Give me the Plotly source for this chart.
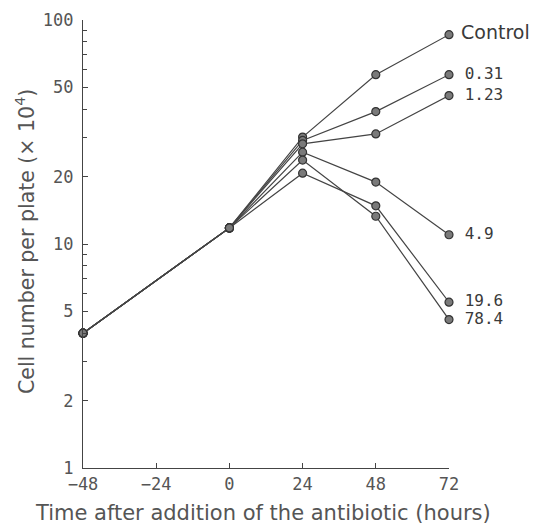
import plotly.graph_objects as go

hours = [-48, 0, 24, 48, 72]
series_names = ["Control", "0.31", "1.23", "4.9", "19.6", "78.4"]
control = [4.0, 11.8, 30.0, 57.0, 86.0]
c031 = [4.0, 11.8, 29.0, 39.0, 57.0]
c123 = [4.0, 11.8, 28.0, 31.0, 46.0]
c49 = [4.0, 11.8, 25.7, 18.9, 11.0]
c196 = [4.0, 11.8, 20.7, 14.8, 5.5]
c784 = [4.0, 11.8, 23.7, 13.3, 4.6]
all_values = [control, c031, c123, c49, c196, c784]

x_ticks = [-48, -24, 0, 24, 48, 72]
x_ticktext = ["\u221248", "\u221224", "0", "24", "48", "72"]
y_ticks = [1, 2, 5, 10, 20, 50, 100]
y_minor = [3, 4, 6, 7, 8, 9, 30, 40, 60, 70, 80, 90]

x_title = "Time after addition of the antibiotic (hours)"
y_title = "Cell number per plate (\u00d7 10<sup>4</sup>)"

line_col = "#444444"
text_col = "#555555"
mono = "DejaVu Sans Mono"
sans = "DejaVu Sans"

fig = go.Figure()
for name, vals in zip(series_names, all_values):
    labels = [""] * (len(vals) - 1) + [" " + name]
    is_ctrl = name == "Control"
    fig.add_trace(go.Scatter(
        x=hours, y=vals, mode="lines+markers+text",
        text=labels, textposition="middle right",
        textfont=dict(family=sans if is_ctrl else mono, size=19 if is_ctrl else 16, color="#3a3a3a"),
        line=dict(color=line_col, width=1.2),
        marker=dict(size=8, color="#7a7a7a", line=dict(color="#333333", width=1.2)),
        showlegend=False, cliponaxis=False, name=name,
    ))

fig.update_layout(
    width=536, height=527,
    margin=dict(l=83, r=87, t=20, b=59),
    paper_bgcolor="white", plot_bgcolor="white",
    font=dict(family=mono, color=text_col, size=16),
    annotations=[
        dict(text=x_title, x=0.5, y=0, xref="paper", yref="paper", xanchor="center", yanchor="middle",
             xshift=-3, yshift=-45, showarrow=False, font=dict(family=sans, size=21, color=text_col)),
        dict(text=y_title, x=0, y=0.5, xref="paper", yref="paper", xanchor="center", yanchor="middle",
             xshift=-58, yshift=2, textangle=-90, showarrow=False, font=dict(family=sans, size=20.5, color=text_col)),
    ],
)
fig.update_xaxes(
    range=[-48, 72], tickvals=x_ticks, ticktext=x_ticktext, automargin=False,
    ticks="inside", ticklen=5, tickcolor=line_col, tickwidth=1.2,
    showline=True, linecolor=line_col, linewidth=1.3, showgrid=False, zeroline=False,
    tickfont=dict(family=mono, size=17, color=text_col),
)
fig.update_yaxes(
    type="log", range=[0, 2], tickvals=y_ticks, ticktext=[str(v) for v in y_ticks], automargin=False,
    ticks="inside", ticklen=5, tickcolor=line_col, tickwidth=1.2, ticklabelstandoff=5,
    minor=dict(tickvals=y_minor, ticks="inside", ticklen=4, tickcolor=line_col, tickwidth=1.2),
    showline=True, linecolor=line_col, linewidth=1.3, showgrid=False, zeroline=False,
    tickfont=dict(family=mono, size=17, color=text_col),
)
fig.write_html("out.html", config={"displayModeBar": False},
               post_script="document.body.style.margin='0';")
